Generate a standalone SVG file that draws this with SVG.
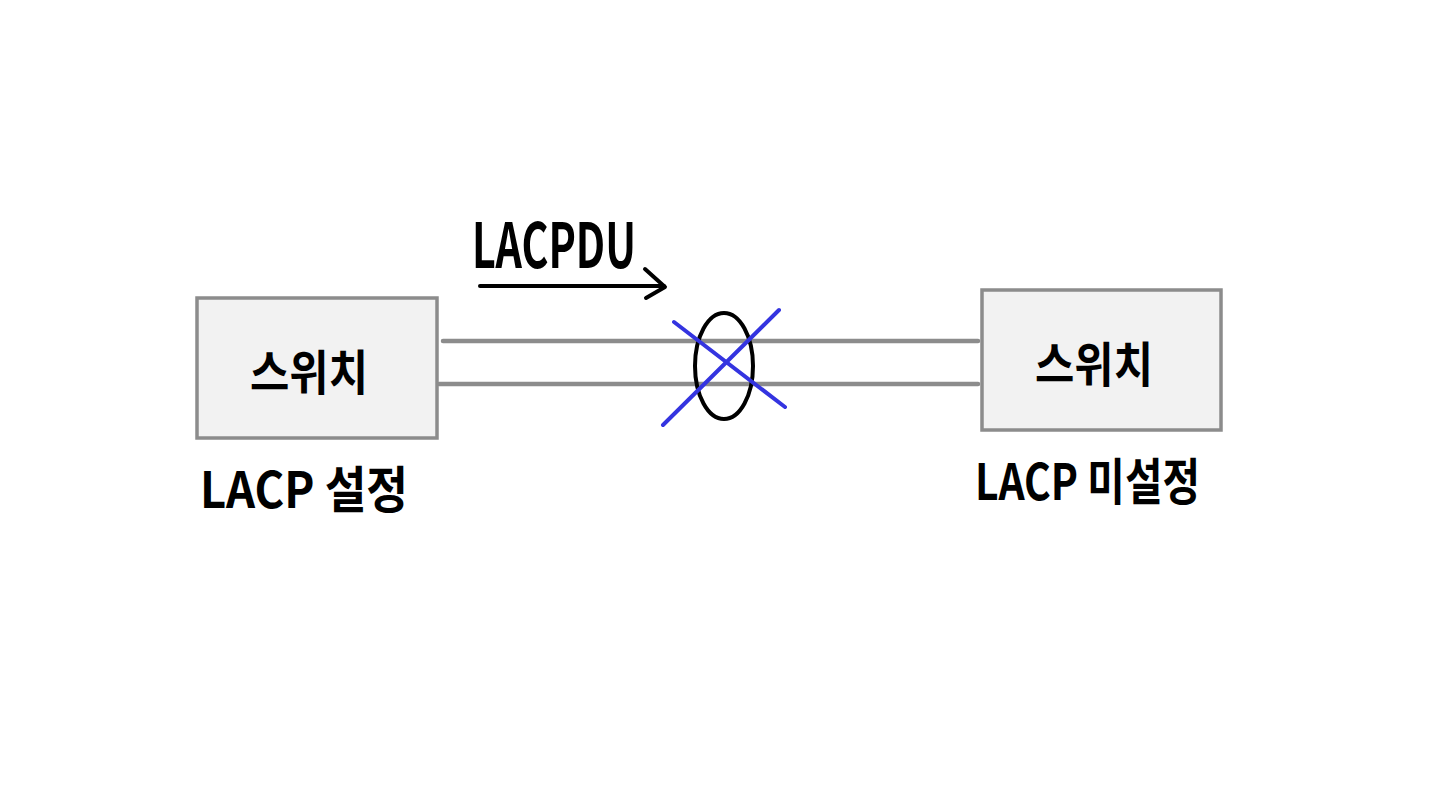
<svg xmlns="http://www.w3.org/2000/svg" width="1440" height="800" viewBox="0 0 1440 800">
<style>
.box{fill:#f2f2f2;stroke:#8c8c8c;stroke-width:3.5}
.link{stroke:#8c8c8c;stroke-width:4.5;stroke-linecap:round;fill:none}
.t{font-family:"Noto Sans CJK KR","Noto Sans",sans-serif;font-weight:700;fill:#000}
.x{stroke:#3434e0;stroke-width:4;stroke-linecap:round}
</style>
<rect width="1440" height="800" fill="#fff"/>
<g id="connectors">
<line class="link" x1="443" y1="341" x2="978" y2="341"/>
<line class="link" x1="439" y1="384" x2="978" y2="384"/>
<line x1="480" y1="286" x2="664" y2="286" stroke="#000" stroke-width="4" stroke-linecap="round"/>
<polyline points="645,269 665,287 646,298" fill="none" stroke="#000" stroke-width="4" stroke-linecap="round" stroke-linejoin="round"/>
</g>
<g id="lag">
<ellipse cx="724" cy="366" rx="29" ry="53" fill="none" stroke="#000" stroke-width="4"/>
<line class="x" x1="674" y1="322" x2="785" y2="407"/>
<line class="x" x1="663" y1="425" x2="779" y2="310"/>
</g>
<g id="switch-left">
<rect class="box" x="197" y="298" width="240" height="140"/>
<text class="t" x="250" y="390" font-size="48" textLength="118" lengthAdjust="spacingAndGlyphs">스위치</text>
<text class="t" x="200" y="508" font-size="50" textLength="208" lengthAdjust="spacingAndGlyphs">LACP 설정</text>
</g>
<g id="switch-right">
<rect class="box" x="982" y="290" width="239" height="140"/>
<text class="t" x="1035" y="382" font-size="48" textLength="118" lengthAdjust="spacingAndGlyphs">스위치</text>
<text class="t" x="975" y="500" font-size="50" textLength="225" lengthAdjust="spacingAndGlyphs">LACP 미설정</text>
</g>
<g id="label-lacpdu">
<text class="t" x="472" y="268" font-size="62" textLength="164" lengthAdjust="spacingAndGlyphs">LACPDU</text>
</g>
</svg>
